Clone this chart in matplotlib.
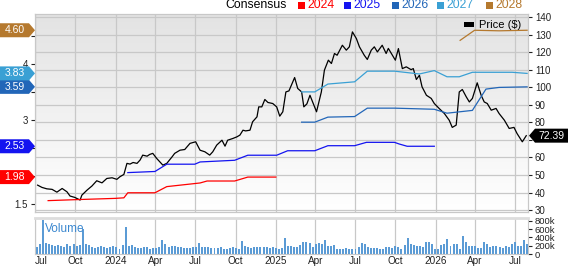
import numpy as np
import pandas as pd
import matplotlib
matplotlib.use('Agg')
import matplotlib.pyplot as plt
from matplotlib.patches import Polygon, Rectangle
from matplotlib.colors import LinearSegmentedColormap
from matplotlib.transforms import blended_transform_factory

plt.rcParams['font.family'] = ['Liberation Sans', 'DejaVu Sans']

# ---- price line ----
price_dates = ['2023-07-07', '2023-07-17', '2023-07-28', '2023-08-09', '2023-08-20', '2023-09-01', '2023-09-12',
               '2023-09-19', '2023-09-30', '2023-10-12', '2023-10-16', '2023-10-28', '2023-11-08', '2023-11-19',
               '2023-12-01', '2023-12-12', '2023-12-24', '2024-01-04', '2024-01-11', '2024-01-20', '2024-01-27',
               '2024-02-03', '2024-02-10', '2024-02-19', '2024-02-26', '2024-03-03', '2024-03-13', '2024-03-19',
               '2024-03-26', '2024-04-04', '2024-04-18', '2024-04-27', '2024-05-09', '2024-05-15', '2024-05-27',
               '2024-06-07', '2024-06-19', '2024-06-26', '2024-07-02', '2024-07-12', '2024-07-23', '2024-08-03',
               '2024-08-10', '2024-08-19', '2024-08-31', '2024-09-07', '2024-09-13', '2024-09-25', '2024-10-04',
               '2024-10-11', '2024-10-18', '2024-10-24', '2024-11-03', '2024-11-09', '2024-11-19', '2024-11-23',
               '2024-11-30', '2024-12-07', '2024-12-14', '2024-12-25', '2025-01-03', '2025-01-10', '2025-01-17',
               '2025-01-24', '2025-01-31', '2025-02-13', '2025-02-20', '2025-03-01', '2025-03-06', '2025-03-13',
               '2025-03-20', '2025-03-26', '2025-04-04', '2025-04-15', '2025-04-22', '2025-05-01', '2025-05-08',
               '2025-05-15', '2025-05-21', '2025-06-02', '2025-06-11', '2025-06-18', '2025-06-25', '2025-07-04',
               '2025-07-11', '2025-07-22', '2025-07-29', '2025-08-07', '2025-08-14', '2025-08-21', '2025-09-01',
               '2025-09-10', '2025-09-15', '2025-09-22', '2025-10-01', '2025-10-08', '2025-10-17', '2025-10-26',
               '2025-11-06', '2025-11-11', '2025-11-18', '2025-11-25', '2025-12-01', '2025-12-11', '2025-12-22',
               '2025-12-29', '2026-01-09', '2026-01-21', '2026-02-01', '2026-02-08', '2026-02-17', '2026-02-24',
               '2026-03-03', '2026-03-12', '2026-03-19', '2026-03-26', '2026-04-06', '2026-04-15', '2026-04-22',
               '2026-04-29', '2026-05-08', '2026-05-19', '2026-05-26', '2026-06-07', '2026-06-18', '2026-06-29',
               '2026-07-06', '2026-07-18', '2026-07-27']
price = [44.2, 42.9, 42.1, 41.8, 40.2, 42.3, 40.4, 38.0, 37.2, 35.7,
         38.5, 41.4, 43.7, 46.7, 45.5, 48.0, 48.4, 47.5, 49.0, 50.3,
         56.6, 56.2, 57.1, 56.6, 58.5, 61.3, 60.7, 61.7, 62.3, 59.4,
         55.6, 56.6, 60.3, 62.3, 64.1, 64.5, 68.0, 68.5, 68.9, 64.1,
         63.2, 61.3, 63.2, 67.0, 69.8, 66.4, 69.8, 70.8, 71.7, 72.7,
         75.5, 75.1, 75.5, 80.3, 83.1, 88.8, 88.8, 93.0, 91.3, 90.7,
         88.8, 83.5, 86.0, 97.3, 97.9, 105.5, 99.3, 97.3, 88.8, 90.5,
         95.4, 91.6, 86.0, 97.3, 109.7, 115.4, 113.5, 119.2, 118.2, 123.9,
         121.1, 123.0, 131.5, 127.7, 123.0, 118.2, 115.8, 121.1, 123.0, 120.1,
         123.9, 119.2, 122.1, 119.2, 115.4, 122.0, 110.6, 111.6, 110.0, 110.6,
         104.4, 106.8, 100.2, 95.4, 93.6, 90.7, 87.9, 85.0, 81.2, 77.1,
         78.4, 97.3, 98.7, 94.5, 91.6, 93.6, 102.5, 95.4, 91.6, 90.7,
         86.9, 87.9, 85.0, 81.2, 76.5, 77.1, 73.6, 68.9, 72.39]

# ---- consensus EPS lines ----
eps24_dates = ['2023-07-31', '2023-10-12', '2023-12-31', '2024-01-20', '2024-01-29', '2024-03-31', '2024-04-27',
               '2024-07-12', '2024-07-28', '2024-09-29', '2024-10-29', '2025-01-01']
eps24 = [1.56, 1.58, 1.60, 1.61, 1.70, 1.70, 1.81, 1.875, 1.91, 1.91, 1.98, 1.98]

eps25_dates = ['2024-01-29', '2024-03-31', '2024-04-27', '2024-06-30', '2024-07-12', '2024-09-29', '2024-10-29',
               '2025-01-03', '2025-01-28', '2025-03-31', '2025-04-30', '2025-06-30', '2025-07-27', '2025-09-29',
               '2025-10-10', '2025-10-28', '2025-12-29']
eps25 = [2.06, 2.08, 2.21, 2.21, 2.25, 2.28, 2.37, 2.37, 2.45, 2.45, 2.54, 2.54, 2.60, 2.60, 2.57, 2.53, 2.53]

eps26_dates = ['2025-03-01', '2025-03-31', '2025-04-30', '2025-06-30', '2025-07-29', '2025-09-29', '2025-12-29',
               '2026-01-27', '2026-03-26', '2026-04-26', '2026-05-26', '2026-07-29']
eps26 = [2.96, 2.96, 3.05, 3.06, 3.21, 3.21, 3.19, 3.12, 3.17, 3.55, 3.58, 3.59]

eps27_dates = ['2025-03-01', '2025-03-31', '2025-04-30', '2025-06-30', '2025-07-29', '2025-09-29', '2025-11-25',
               '2025-12-29', '2026-01-27', '2026-02-24', '2026-03-26', '2026-06-25', '2026-07-29']
eps27 = [3.50, 3.50, 3.64, 3.68, 3.87, 3.87, 3.82, 3.88, 3.77, 3.77, 3.85, 3.85, 3.83]

eps28_dates = ['2026-02-26', '2026-03-31', '2026-05-26', '2026-07-29']
eps28 = [4.42, 4.60, 4.59, 4.60]

years = ['2024', '2025', '2026', '2027', '2028']
colors = ['#ff0000', '#1414f0', '#2266b8', '#3aa0d4', '#b5792e']
last_eps = [1.98, 2.53, 3.59, 3.83, 4.60]

# left axis ticks (the ones hidden behind the value tags carry no label)
eps_ticks = [1.5, 2, 2.5, 3, 3.5, 4, 4.5]
eps_tick_labels = ['1.5', '', '', '3', '', '4', '']
price_ticks = [30, 40, 50, 60, 70, 80, 90, 100, 110, 120, 130, 140]
price_tick_labels = ['30', '40', '50', '60', '', '80', '90', '100', '110', '120', '130', '140']

# ---- weekly volume (thousands) ----
volume_k = [180, 230, 820, 260, 240, 210, 200, 220, 190, 170,
            230, 190, 240, 200, 220, 600, 230, 210, 160, 150,
            170, 200, 160, 150, 180, 200, 170, 110, 210, 650,
            200, 220, 170, 140, 150, 160, 160, 130, 150, 140,
            160, 330, 250, 180, 200, 190, 160, 170, 150, 140,
            150, 170, 160, 260, 180, 160, 170, 150, 140, 150,
            160, 130, 120, 150, 160, 150, 130, 320, 200, 160,
            150, 170, 160, 180, 170, 160, 140, 160, 150, 120,
            150, 380, 200, 190, 170, 160, 220, 280, 300, 270,
            180, 230, 270, 250, 350, 190, 200, 220, 130, 130,
            130, 140, 120, 130, 130, 170, 260, 230, 160, 150,
            140, 150, 130, 110, 160, 170, 140, 190, 160, 120,
            210, 390, 230, 220, 200, 190, 160, 280, 300, 230,
            120, 130, 220, 230, 370, 190, 240, 250, 130, 430,
            290, 190, 200, 200, 150, 150, 300, 230, 170, 200,
            190, 170, 140, 200, 180, 250, 300, 200, 190, 330, 250]
vol_dates = pd.date_range('2023-07-05', periods=len(volume_k), freq='7D')

quarter_ticks = pd.date_range('2023-07-01', '2026-07-01', freq='QS-JAN')
quarter_labels = ['Jul', 'Oct', '2024', 'Apr', 'Jul', 'Oct', '2025', 'Apr', 'Jul', 'Oct', '2026', 'Apr', 'Jul']

W, H = 568, 266
fig = plt.figure(figsize=(W / 100, H / 100), dpi=100)


def frect(l, t, r, b):
    return [l / W, 1 - b / H, (r - l) / W, (b - t) / H]


ax = fig.add_axes(frect(35, 14, 528, 212))
axv = fig.add_axes(frect(35, 218, 528, 254), sharex=ax)
ax_eps = ax.twinx()
ax.yaxis.tick_right()
ax_eps.yaxis.tick_left()

grid_c = '#c8c8c8'
tick_c = '#222222'

# background gradient
cmap = LinearSegmentedColormap.from_list('bg', ['#e3e3e3', '#ffffff'])
ax.imshow(np.linspace(0, 1, 200).reshape(-1, 1), cmap=cmap, aspect='auto',
          extent=[0, 1, 0, 1], transform=ax.transAxes, zorder=0)

xs = pd.to_datetime(price_dates)
ax.plot(xs, price, color='black', lw=0.9, zorder=3)

series = [(eps24_dates, eps24), (eps25_dates, eps25), (eps26_dates, eps26),
          (eps27_dates, eps27), (eps28_dates, eps28)]
for (d, v), c in zip(series, colors):
    ax_eps.plot(pd.to_datetime(d), v, color=c, lw=0.9)

xmin, xmax = pd.Timestamp('2023-07-01'), pd.Timestamp('2026-07-31')
ax.set_xlim(xmin, xmax)
ax.set_ylim(28.9, 141.7)
ax_eps.set_ylim(1.357, 4.89)

ax.set_yticks(price_ticks)
ax.set_yticklabels(price_tick_labels)
ax.set_xticks(quarter_ticks)
ax.grid(True, color=grid_c, lw=0.9, zorder=1)
ax.tick_params(axis='x', labelbottom=False, length=0)
ax.tick_params(axis='y', labelsize=7, colors=tick_c, length=3, width=0.8, pad=2)
ax_eps.set_yticks(eps_ticks)
ax_eps.set_yticklabels(eps_tick_labels)
ax_eps.tick_params(axis='y', labelsize=7, colors=tick_c, length=3, width=0.8, pad=2)
for a in (ax, ax_eps):
    for s in a.spines.values():
        s.set_color(grid_c)
for t in ax.get_yticklines() + ax_eps.get_yticklines():
    t.set_color('#888888')

# volume panel
axv.bar(vol_dates, np.array(volume_k) * 1000, width=4.5, color='#5b9bd5', zorder=2)
axv.set_ylim(0, 870000)
axv.yaxis.tick_right()
axv.set_yticks([0, 200000, 400000, 600000, 800000])
axv.set_yticklabels(['0', '200k', '400k', '600k', '800k'])
axv.set_xticks(quarter_ticks)
axv.set_xticklabels(quarter_labels)
axv.get_xticklabels()[0].set_ha('left')
axv.set_xlim(xmin, xmax)
axv.grid(True, axis='x', color=grid_c, lw=0.9, zorder=1)
axv.tick_params(axis='y', labelsize=6.8, colors=tick_c, length=3, width=0.8, pad=2)
axv.tick_params(axis='x', labelsize=7.2, colors=tick_c, length=0, pad=1.5)
for t in axv.get_yticklines():
    t.set_color('#888888')
for s in axv.spines.values():
    s.set_color(grid_c)
axv.spines['top'].set_color('#dddddd')
axv.spines['top'].set_linewidth(2)
axv.text(0.02, 0.69, 'Volume', transform=axv.transAxes, color='#3a87cf',
         fontsize=8.5, va='center', ha='left', zorder=5)

# left value tags
aw = 493.0
tr_eps = blended_transform_factory(ax_eps.transAxes, ax_eps.transData)
hh = 7 * (4.89 - 1.357) / 198
for val, c in zip(last_eps, colors):
    x0, x1, xt = -35 / aw, -6 / aw, 0.0
    poly = Polygon([(x0, val - hh), (x1, val - hh), (xt, val), (x1, val + hh), (x0, val + hh)],
                   closed=True, facecolor=c, edgecolor='none', transform=tr_eps,
                   clip_on=False, zorder=10)
    ax_eps.add_patch(poly)
    ax_eps.text(-20.5 / aw, val, f'{val:.2f}', transform=tr_eps, color='white',
                fontsize=7.5, ha='center', va='center', zorder=11, clip_on=False)

# right price tag
tr_p = blended_transform_factory(ax.transAxes, ax.transData)
last_price = price[-1]
ph = 7 * (141.7 - 28.9) / 198
x0, x1, xt = 1 + 40 / aw, 1 + 7 / aw, 1 + 1 / aw
ax.add_patch(Polygon([(x0, last_price - ph), (x1, last_price - ph), (xt, last_price),
                      (x1, last_price + ph), (x0, last_price + ph)], closed=True,
                     facecolor='black', edgecolor='none', transform=tr_p, clip_on=False, zorder=10))
ax.text(1 + 23.5 / aw, last_price, f'{last_price:.2f}', transform=tr_p, color='white',
        fontsize=7.5, ha='center', va='center', zorder=11, clip_on=False)

# top legend
fig.text(225 / W, 1 - 5.5 / H, 'Consensus', fontsize=8.8, color='black', ha='left', va='center')
sq_x = [298, 344, 392, 437, 486]
for sx, y, c in zip(sq_x, years, colors):
    fig.add_artist(Rectangle((sx / W, 1 - 9 / H), 7 / W, 7 / H, transform=fig.transFigure,
                             facecolor=c, edgecolor='none'))
    fig.text((sx + 9) / W, 1 - 5.5 / H, y, fontsize=8.8, color=c, ha='left', va='center')

# price legend
fig.add_artist(Rectangle((464 / W, 1 - 27 / H), 10 / W, 5 / H, transform=fig.transFigure,
                         facecolor='black', edgecolor='none', zorder=20))
fig.text(479 / W, 1 - 25 / H, 'Price ($)', fontsize=8, color='black', ha='left', va='center', zorder=20)

fig.savefig('out.png', dpi=100)
